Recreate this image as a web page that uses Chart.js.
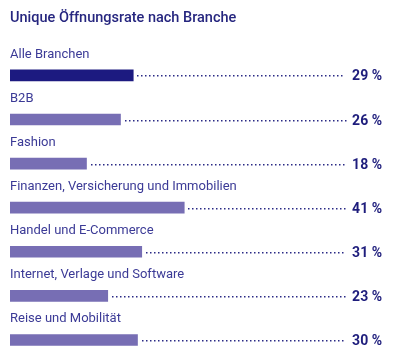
<!DOCTYPE html>
<html>
<head>
<meta charset="utf-8">
<script src="https://cdn.jsdelivr.net/npm/chart.js@4/dist/chart.umd.min.js"></script>
<style>
html,body{margin:0;padding:0;background:#fff;}
#wrap{width:400px;height:364px;}
</style>
</head>
<body>
<div id="wrap"><canvas id="c" width="400" height="364"></canvas></div>
<script>
const categories = ["Alle Branchen","B2B","Fashion","Finanzen, Versicherung und Immobilien","Handel und E-Commerce","Internet, Verlage und Software","Reise und Mobilität"];
const values = [29,26,18,41,31,23,30];
const valueLabels = ["29 %","26 %","18 %","41 %","31 %","23 %","30 %"];
const titleText = "Unique Öffnungsrate nach Branche";

const barColors = values.map((v,i)=> i===0 ? "#1c1a80" : "#776eb4");

const overlay = {
  id:"overlay",
  afterDatasetsDraw(chart){
    const ctx = chart.ctx;
    const meta = chart.getDatasetMeta(0);
    const area = chart.chartArea;
    ctx.save();
    meta.data.forEach((bar,i)=>{
      const y = bar.y;
      ctx.font = "13px Roboto";
      ctx.fillStyle = "#3b3a96";
      ctx.textAlign = "left";
      ctx.textBaseline = "middle";
      ctx.fillText(categories[i], area.left, y - 21);
      ctx.fillStyle = "#2a2a85";
      const start = bar.x + 4;
      const end = 345;
      for(let x = start; x <= end; x += 4){
        ctx.fillRect(Math.round(x), Math.round(y), 1.5, 1.5);
      }
      ctx.font = "bold 14px Roboto";
      ctx.fillStyle = "#1e1d7c";
      ctx.textAlign = "right";
      ctx.fillText(valueLabels[i], 382, y + 1.5);
    });
    ctx.restore();
  }
};

new Chart(document.getElementById("c"),{
  type:"bar",
  data:{
    labels:categories,
    datasets:[{data:values, backgroundColor:barColors, barThickness:11, borderWidth:0}]
  },
  options:{
    indexAxis:"y",
    responsive:false,
    animation:false,
    layout:{padding:{left:10,right:16,top:0,bottom:2}},
    scales:{
      x:{display:false,min:0,max:88},
      y:{display:false}
    },
    plugins:{
      legend:{display:false},
      tooltip:{enabled:false},
      title:{
        display:true,
        text:titleText,
        align:"start",
        color:"#26267f",
        font:{family:"Roboto",size:14.5,weight:"500"},
        padding:{top:10,bottom:26}
      }
    }
  },
  plugins:[overlay]
});
</script>
</body>
</html>
